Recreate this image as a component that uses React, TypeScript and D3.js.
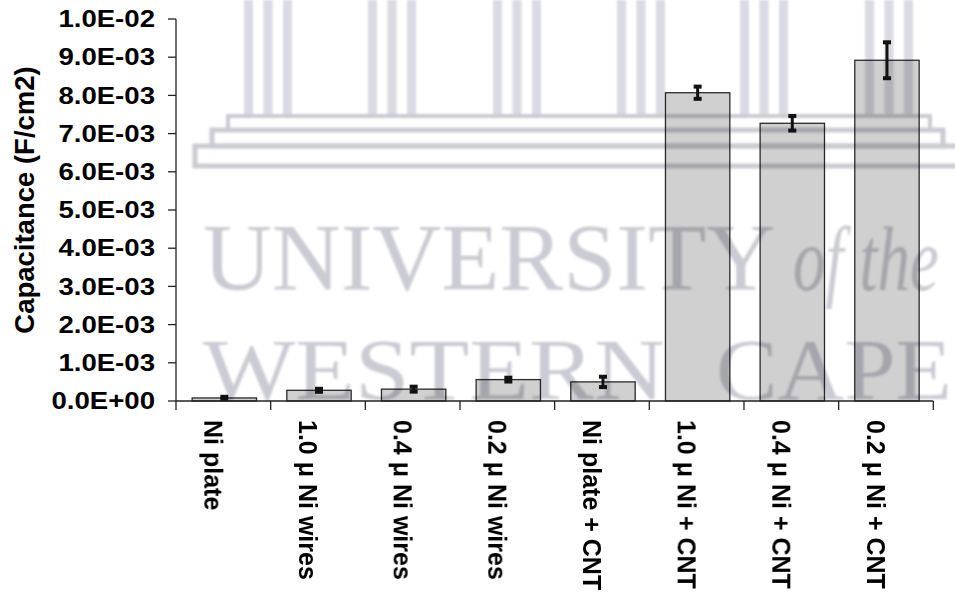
import React from "react";
import * as d3 from "d3";

// Specific capacitance of nickel electrodes, with and without carbon nanotubes
const categories = [
  "Ni plate",
  "1.0 μ Ni wires",
  "0.4 μ Ni wires",
  "0.2 μ Ni wires",
  "Ni plate + CNT",
  "1.0 μ Ni + CNT",
  "0.4 μ Ni + CNT",
  "0.2 μ Ni + CNT",
];
const capacitance = [0.08e-3, 0.28e-3, 0.31e-3, 0.56e-3, 0.5e-3, 8.07e-3, 7.27e-3, 8.92e-3];
const stdError = [0.03e-3, 0.04e-3, 0.065e-3, 0.05e-3, 0.135e-3, 0.16e-3, 0.19e-3, 0.47e-3];
const yTickValues = [0, 0.001, 0.002, 0.003, 0.004, 0.005, 0.006, 0.007, 0.008, 0.009, 0.01];
const yTitle = "Capacitance (F/cm2)";

const W = 955;
const H = 605;
const plot = { left: 176, right: 933.3, top: 19, bottom: 401 };

const FONT = "'Liberation Sans', Arial, Helvetica, sans-serif";
const SERIF = "'Liberation Serif', 'Times New Roman', serif";

// Excel-style scientific label, e.g. 1.0E-02
function sci(v: number): string {
  const [m, e] = v.toExponential(1).split("e");
  const n = parseInt(e, 10);
  const sign = n < 0 ? "-" : "+";
  return `${m}E${sign}${String(Math.abs(n)).padStart(2, "0")}`;
}

// Faint university watermark behind the plot
function Watermark() {
  const ink = "#cbcbd3";
  const col = "#dadae2";
  const groups = [244, 368, 493, 617, 740, 865];
  return (
    <g style={{ mixBlendMode: "multiply" }} filter="url(#soft)">
      {groups.map((gx) =>
        [0, 19.5, 39].map((o) => (
          <rect key={`${gx}-${o}`} x={gx + o} y={0} width={9} height={116} fill={col} />
        ))
      )}
      <rect x={228} y={116} width={702} height={14} fill="none" stroke={ink} strokeWidth={4} />
      <rect x={212} y={130} width={731} height={16} fill="none" stroke={ink} strokeWidth={5} />
      <rect x={195} y={146} width={780} height={20} fill="none" stroke={ink} strokeWidth={5} />
      <text x={203} y={290} fontFamily={SERIF} fontSize={96} fill={ink} textLength={572} lengthAdjust="spacingAndGlyphs">
        UNIVERSITY
      </text>
      <text transform="translate(793, 290) scale(0.72, 1)" fontFamily={SERIF} fontStyle="italic" fontSize={90} fill={ink}>
        of the
      </text>
      <text x={203} y={399} fontFamily={SERIF} fontSize={86} fill={ink} textLength={462} lengthAdjust="spacingAndGlyphs">
        WESTERN
      </text>
      <text x={716} y={399} fontFamily={SERIF} fontSize={86} fill={ink} textLength={236} lengthAdjust="spacingAndGlyphs">
        CAPE
      </text>
    </g>
  );
}

export default function App() {
  const x = d3.scaleBand<string>().domain(categories).range([plot.left, plot.right]).padding(0);
  const y = d3.scaleLinear().domain([0, 0.01]).range([plot.bottom, plot.top]);
  const bw = x.bandwidth();
  const barW = bw * 0.68;
  const boundaries = categories.map((c) => x(c) as number).concat([plot.right]);

  return (
    <svg
      width={W}
      height={H}
      viewBox={`0 0 ${W} ${H}`}
      style={{ position: "absolute", left: 0, top: 0, background: "#ffffff" }}
    >
      <defs>
        <filter id="soft" x="-5%" y="-5%" width="110%" height="110%">
          <feGaussianBlur stdDeviation={0.9} />
        </filter>
      </defs>
      <rect x={0} y={0} width={W} height={H} fill="#ffffff" />

      {/* bars */}
      {categories.map((c, i) => {
        const x0 = (x(c) as number) + (bw - barW) / 2 + 1;
        return (
          <rect
            key={c}
            x={x0}
            y={y(capacitance[i])}
            width={barW}
            height={y(0) - y(capacitance[i])}
            fill="#d0d0d0"
            stroke="#2a2a2a"
            strokeWidth={1.3}
          />
        );
      })}

      <Watermark />

      {/* error bars */}
      {categories.map((c, i) => {
        const cx = (x(c) as number) + bw / 2 + 1;
        const hi = y(capacitance[i] + stdError[i]);
        const lo = y(capacitance[i] - stdError[i]);
        return (
          <g key={`err-${c}`} fill="#111">
            <line x1={cx} x2={cx} y1={hi} y2={lo} stroke="#111" strokeWidth={3} />
            <rect x={cx - 4} y={hi - 2} width={8} height={4} />
            <rect x={cx - 4} y={lo - 2} width={8} height={4} />
          </g>
        );
      })}

      {/* y axis */}
      <line x1={plot.left} x2={plot.left} y1={y(0.01)} y2={y(0)} stroke="#222" strokeWidth={1.3} />
      {yTickValues.map((v) => (
        <g key={v}>
          <line x1={plot.left - 8} x2={plot.left} y1={y(v)} y2={y(v)} stroke="#222" strokeWidth={1.3} />
          <text
            transform={`translate(155, ${y(v)}) scale(1.2, 1)`}
            dy="0.36em"
            textAnchor="end"
            fontFamily={FONT}
            fontWeight="bold"
            fontSize={23}
            fill="#000"
          >
            {sci(v)}
          </text>
        </g>
      ))}
      <text
        transform={`translate(34, 200) rotate(-90)`}
        textAnchor="middle"
        fontFamily={FONT}
        fontWeight="bold"
        fontSize={27.5}
        fill="#000"
      >
        {yTitle}
      </text>

      {/* x axis */}
      <line x1={plot.left} x2={plot.right} y1={y(0)} y2={y(0)} stroke="#222" strokeWidth={1.3} />
      {boundaries.map((bx, i) => (
        <line key={i} x1={bx} x2={bx} y1={y(0)} y2={y(0) + 9} stroke="#222" strokeWidth={1.3} />
      ))}
      {categories.map((c) => (
        <text
          key={`lbl-${c}`}
          transform={`translate(${(x(c) as number) + bw / 2 - 19}, 420) rotate(90)`}
          textAnchor="start"
          fontFamily={FONT}
          fontWeight="bold"
          fontSize={25}
          fill="#000"
        >
          {c}
        </text>
      ))}
    </svg>
  );
}
